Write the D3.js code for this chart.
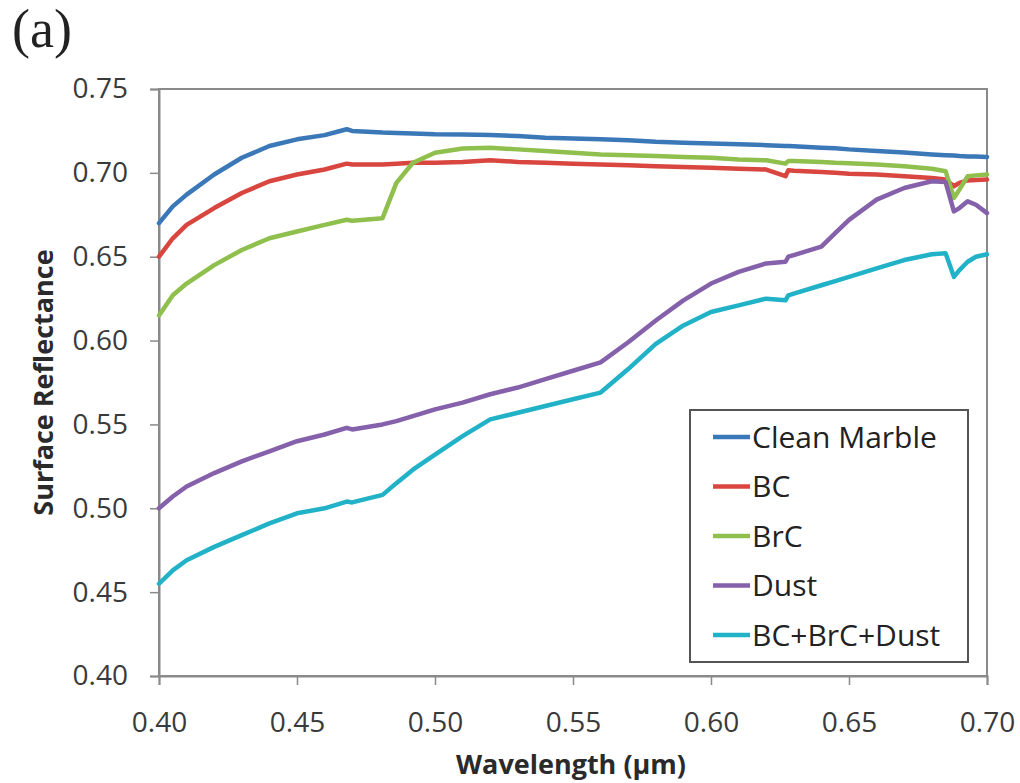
<!DOCTYPE html>
<html>
<head>
<meta charset="utf-8">
<script src="https://cdn.jsdelivr.net/npm/d3@7"></script>
<style>
  html, body { margin: 0; padding: 0; background: #fff; }
  svg { display: block; }
</style>
</head>
<body>
<svg id="chart" width="1020" height="783"></svg>
<script>
// Wavelength grid (µm) shared by all spectra
const wavelengths = [0.400, 0.405, 0.410, 0.420, 0.430, 0.440, 0.450, 0.460, 0.468, 0.470,
  0.481, 0.486, 0.492, 0.500, 0.510, 0.520, 0.530, 0.540, 0.550, 0.560,
  0.570, 0.580, 0.590, 0.600, 0.610, 0.620, 0.627, 0.628, 0.630, 0.640,
  0.645, 0.650, 0.660, 0.670, 0.680, 0.685, 0.688, 0.690, 0.693, 0.696, 0.700];

const cleanMarble = [0.670, 0.680, 0.687, 0.699, 0.709, 0.716, 0.720, 0.7225, 0.726, 0.725,
  0.724, 0.7238, 0.7235, 0.723, 0.7228, 0.7225, 0.722, 0.721, 0.7205, 0.720,
  0.7195, 0.7185, 0.718, 0.7175, 0.717, 0.7165, 0.716, 0.716, 0.7158, 0.715,
  0.7147, 0.714, 0.713, 0.7122, 0.711, 0.7105, 0.7103, 0.710, 0.7098, 0.7097, 0.7095];

const bc = [0.650, 0.661, 0.669, 0.679, 0.688, 0.695, 0.699, 0.702, 0.7055, 0.705,
  0.705, 0.7055, 0.706, 0.706, 0.7065, 0.7075, 0.7065, 0.706, 0.7055, 0.705,
  0.7045, 0.704, 0.7035, 0.703, 0.7025, 0.702, 0.698, 0.7015, 0.7012, 0.7005,
  0.700, 0.6995, 0.699, 0.698, 0.697, 0.696, 0.692, 0.694, 0.6955, 0.6958, 0.696];

const brc = [0.615, 0.627, 0.634, 0.645, 0.654, 0.661, 0.665, 0.669, 0.672, 0.6715,
  0.673, 0.694, 0.706, 0.712, 0.7145, 0.715, 0.714, 0.713, 0.712, 0.711,
  0.7105, 0.710, 0.7095, 0.709, 0.708, 0.7075, 0.7055, 0.707, 0.707, 0.7065,
  0.706, 0.7058, 0.705, 0.704, 0.7025, 0.701, 0.685, 0.690, 0.698, 0.6985, 0.699];

const dust = [0.500, 0.507, 0.513, 0.521, 0.528, 0.534, 0.540, 0.544, 0.548, 0.547,
  0.550, 0.552, 0.555, 0.559, 0.563, 0.568, 0.572, 0.577, 0.582, 0.587,
  0.599, 0.612, 0.624, 0.634, 0.641, 0.646, 0.647, 0.650, 0.651, 0.656,
  0.664, 0.672, 0.684, 0.691, 0.695, 0.6945, 0.677, 0.679, 0.683, 0.681, 0.676];

const mixed = [0.455, 0.463, 0.469, 0.477, 0.484, 0.491, 0.497, 0.500, 0.504, 0.5035,
  0.508, 0.515, 0.523, 0.532, 0.543, 0.553, 0.557, 0.561, 0.565, 0.569,
  0.583, 0.598, 0.609, 0.617, 0.621, 0.625, 0.624, 0.627, 0.628, 0.633,
  0.6355, 0.638, 0.643, 0.648, 0.6515, 0.652, 0.638, 0.642, 0.647, 0.650, 0.6515];

const seriesNames = ["Clean Marble", "BC", "BrC", "Dust", "BC+BrC+Dust"];
const seriesValues = [cleanMarble, bc, brc, dust, mixed];
const seriesColors = ["#3a78b8", "#d8463f", "#8fbf4c", "#8461aa", "#22b2c8"];

const xTicks = [0.40, 0.45, 0.50, 0.55, 0.60, 0.65, 0.70];
const yTicks = [0.40, 0.45, 0.50, 0.55, 0.60, 0.65, 0.70, 0.75];

const svg = d3.select("#chart");
const plot = { left: 159, right: 987, top: 89, bottom: 676 };

const x = d3.scaleLinear().domain([0.40, 0.70]).range([plot.left, plot.right]);
const y = d3.scaleLinear().domain([0.40, 0.75]).range([plot.bottom, plot.top]);

const axisColor = "#8a8a8a";
const textColor = "#3a3a3a";
const font = "'Open Sans', 'Noto Sans', sans-serif";

// Panel label
svg.append("text")
  .attr("x", 12).attr("y", 47)
  .attr("font-family", "'Liberation Serif', 'DejaVu Serif', serif")
  .attr("font-size", 54)
  .attr("fill", "#222")
  .text("(a)");

// Plot frame
svg.append("rect")
  .attr("x", plot.left).attr("y", plot.top)
  .attr("width", plot.right - plot.left).attr("height", plot.bottom - plot.top)
  .attr("fill", "none").attr("stroke", axisColor).attr("stroke-width", 2);

// Y axis
const yAxis = svg.append("g")
  .attr("transform", `translate(${plot.left},0)`)
  .call(d3.axisLeft(y).tickValues(yTicks).tickFormat(d3.format(".2f")).tickSize(9).tickPadding(22));
// X axis
const xAxis = svg.append("g")
  .attr("transform", `translate(0,${plot.bottom})`)
  .call(d3.axisBottom(x).tickValues(xTicks).tickFormat(d3.format(".2f")).tickSize(9).tickPadding(27));

[yAxis, xAxis].forEach(g => {
  g.select(".domain").attr("stroke", axisColor).attr("stroke-width", 2);
  g.selectAll(".tick line").attr("stroke", axisColor).attr("stroke-width", 1.5);
  g.selectAll(".tick text")
    .attr("font-family", font)
    .attr("font-size", 28)
    .attr("fill", textColor);
});

// Axis titles
svg.append("text")
  .attr("x", 571).attr("y", 774)
  .attr("text-anchor", "middle")
  .attr("font-family", font).attr("font-weight", "bold").attr("font-size", 27)
  .attr("fill", "#2a2a2a")
  .text("Wavelength (µm)");

svg.append("text")
  .attr("transform", `translate(53,${(plot.top + plot.bottom) / 2}) rotate(-90)`)
  .attr("text-anchor", "middle")
  .attr("font-family", font).attr("font-weight", "bold").attr("font-size", 27)
  .attr("fill", "#2a2a2a")
  .text("Surface Reflectance");

// Spectra
const line = d3.line()
  .x((d, i) => x(wavelengths[i]))
  .y(d => y(d));

svg.append("g").selectAll("path")
  .data(seriesValues)
  .join("path")
  .attr("d", d => line(d))
  .attr("fill", "none")
  .attr("stroke", (d, i) => seriesColors[i])
  .attr("stroke-width", 4.5)
  .attr("stroke-linejoin", "round")
  .attr("stroke-linecap", "round");

// Legend
const legend = svg.append("g");
legend.append("rect")
  .attr("x", 690).attr("y", 410)
  .attr("width", 278).attr("height", 252)
  .attr("fill", "#fff").attr("stroke", "#555").attr("stroke-width", 2);

const legendRow = d3.scaleLinear().domain([0, 4]).range([437, 635]);
const rows = legend.selectAll("g.row")
  .data(seriesNames)
  .join("g")
  .attr("class", "row")
  .attr("transform", (d, i) => `translate(0,${legendRow(i)})`);
rows.append("line")
  .attr("x1", 713).attr("x2", 750)
  .attr("stroke", (d, i) => seriesColors[i])
  .attr("stroke-width", 4.5);
rows.append("text")
  .attr("x", 752).attr("dy", "0.35em")
  .attr("font-family", font).attr("font-size", 30)
  .attr("fill", "#222")
  .text(d => d);
</script>
</body>
</html>
